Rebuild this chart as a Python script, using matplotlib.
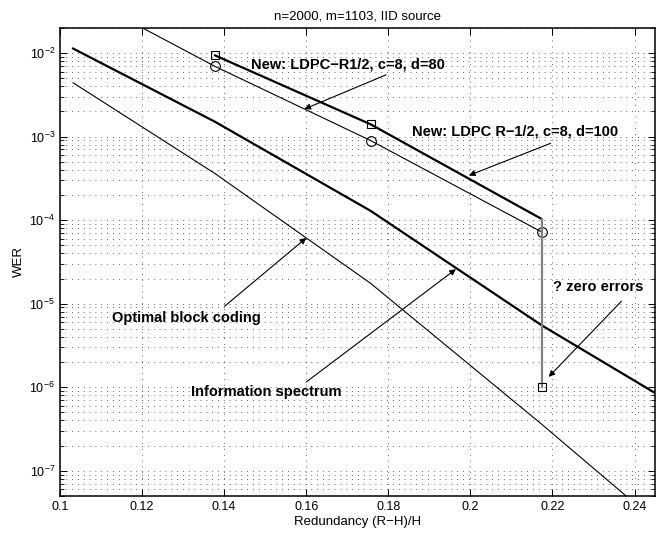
import numpy as np
import matplotlib
matplotlib.use('Agg')
import matplotlib.pyplot as plt
from matplotlib.ticker import LogLocator, FixedLocator, NullFormatter

plt.rcParams['font.family'] = ['Liberation Sans', 'DejaVu Sans']
plt.rcParams['mathtext.fontset'] = 'custom'
plt.rcParams['mathtext.rm'] = 'Liberation Sans'
plt.rcParams['mathtext.it'] = 'Liberation Sans:italic'
plt.rcParams['mathtext.bf'] = 'Liberation Sans:bold'

# values
x_bound = [0.1032, 0.1378, 0.1757, 0.2174, 0.26]
wer_optimal = [4.4e-3, 3.6e-4, 1.75e-5, 3.6e-7, 6e-9]
wer_infospec = [1.13e-2, 1.5e-3, 1.29e-4, 5.5e-6, 3.1e-7]

x_ldpc80 = [0.1032, 0.1378, 0.1757, 0.2174]
wer_ldpc80 = [5.5e-2, 6.9e-3, 8.95e-4, 7.2e-5]

x_ldpc100 = [0.1378, 0.1757, 0.2174]
wer_ldpc100 = [9.35e-3, 1.4e-3, 1.03e-4]

x_zero = [0.2174, 0.2174]
wer_zero = [1.03e-4, 1e-6]

fig = plt.figure(figsize=(6.59, 5.35), dpi=100)
ax = fig.add_axes([0.091, 0.073, 0.903, 0.875])

ax.semilogy(x_bound, wer_optimal, color='k', lw=0.8)
ax.semilogy(x_bound, wer_infospec, color='k', lw=1.6)
ax.semilogy(x_ldpc80, wer_ldpc80, color='k', lw=0.8)
ax.semilogy(x_ldpc80[1:], wer_ldpc80[1:], ls='none', marker='o', ms=7,
            mfc='none', mec='k', mew=0.8)
ax.semilogy(x_ldpc100, wer_ldpc100, color='k', lw=1.6)
ax.semilogy(x_ldpc100[:2], wer_ldpc100[:2], ls='none', marker='s', ms=5.5,
            mfc='none', mec='k', mew=0.8)
ax.semilogy(x_zero, wer_zero, color='0.5', lw=1.6)
ax.semilogy(x_zero[1:], wer_zero[1:], ls='none', marker='s', ms=5.5,
            mfc='none', mec='k', mew=0.8)

ax.set_xlim(0.1, 0.245)
ax.set_ylim(5e-8, 2e-2)
ax.xaxis.set_major_locator(FixedLocator([0.1, 0.12, 0.14, 0.16, 0.18, 0.2, 0.22, 0.24]))
ax.set_xticklabels(['0.1', '0.12', '0.14', '0.16', '0.18', '0.2', '0.22', '0.24'])
ax.yaxis.set_major_locator(LogLocator(base=10, numticks=20))
ax.yaxis.set_minor_locator(LogLocator(base=10, subs=np.arange(2, 10), numticks=20))
ax.yaxis.set_minor_formatter(NullFormatter())

ax.tick_params(which='both', direction='in', top=True, right=True, labelsize=9)
ax.tick_params(which='major', length=5, width=0.7)
ax.tick_params(which='minor', length=3, width=0.6)

grid_kw = dict(color='0.2', ls=(0, (1, 6)), lw=0.6)
ax.grid(True, which='major', axis='x', **grid_kw)
ax.grid(True, which='both', axis='y', **grid_kw)
for s in ax.spines.values():
    s.set_linewidth(1.1)

ax.set_title('n=2000, m=1103, IID source', fontsize=9.5, pad=6)
ax.set_xlabel('Redundancy (R\u2212H)/H', fontsize=9.5, labelpad=2)
ax.set_ylabel('WER', fontsize=9.5, labelpad=3)

arrow = dict(arrowstyle='-|>', color='k', lw=0.8, mutation_scale=9,
             shrinkA=0, shrinkB=0)
txt = dict(fontsize=10.5, fontweight='bold', ha='left', va='baseline')

ax.text(0.14666, 6.6e-3, 'New: LDPC\u2212R1/2, c=8, d=80', **txt)
ax.annotate('', xy=(0.15954, 2.13e-3), xytext=(0.17947, 5.48e-3), arrowprops=arrow)

ax.text(0.18578, 1.04e-3, 'New: LDPC R\u22121/2, c=8, d=100', **txt)
ax.annotate('', xy=(0.19963, 3.42e-4), xytext=(0.21956, 8.3e-4), arrowprops=arrow)

ax.text(0.11264, 6.0e-6, 'Optimal block coding', **txt)
ax.annotate('', xy=(0.16002, 6.12e-5), xytext=(0.1401, 9.3e-6), arrowprops=arrow)

ax.text(0.13183, 7.85e-7, 'Information spectrum', **txt)
ax.annotate('', xy=(0.19648, 2.59e-5), xytext=(0.16002, 1.156e-6), arrowprops=arrow)

ax.text(0.22005, 1.41e-5, '? zero errors', **txt)
ax.annotate('', xy=(0.21908, 1.33e-6), xytext=(0.23682, 1.07e-5), arrowprops=arrow)

fig.savefig('out.png', dpi=100)
